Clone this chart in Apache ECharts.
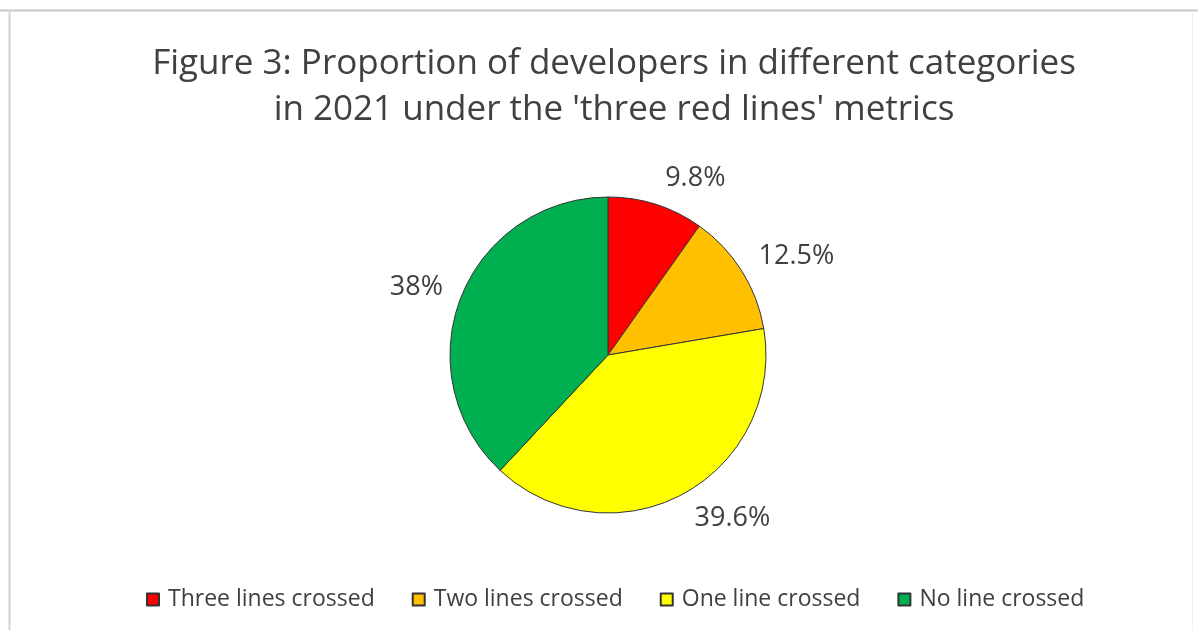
<!DOCTYPE html>
<html>
<head>
<meta charset="utf-8">
<title>Three red lines</title>
<script src="https://cdn.jsdelivr.net/npm/echarts@6/dist/echarts.min.js"></script>
<style>
  html, body { margin: 0; padding: 0; background: #fff; }
  #chart { width: 1198px; height: 630px; }
</style>
</head>
<body>
<div id="chart"></div>
<script>
// data
const categories = ['Three lines crossed', 'Two lines crossed', 'One line crossed', 'No line crossed']
const shares = [9.8, 12.5, 39.6, 38]
const labels = ['9.8%', '12.5%', '39.6%', '38%']
const colors = ['#FF0000', '#FFC000', '#FFFF00', '#00B050']

const textColor = '#404040'
const fontFamily = '"Open Sans", Lato, sans-serif'

// mid angle of each slice, measured clockwise from 12 o'clock
const total = shares.reduce((a, b) => a + b, 0)
const midAngles = []
let acc = 0
shares.forEach(v => {
  midAngles.push((acc + v / 2) / total * Math.PI * 2)
  acc += v
})

const chart = echarts.init(document.getElementById('chart'))

const option = {
  backgroundColor: '#fff',
  animation: false,
  title: {
    text: 'Figure 3: Proportion of developers in different categories\nin 2021 under the \'three red lines\' metrics',
    left: 609,
    textAlign: 'center',
    top: 36,
    textStyle: {
      color: textColor,
      fontFamily: fontFamily,
      fontWeight: 'normal',
      fontSize: 35,
      lineHeight: 46
    }
  },
  legend: {
    data: categories,
    left: 141,
    top: 583,
    icon: 'rect',
    itemWidth: 12,
    itemHeight: 12,
    itemGap: 37,
    textStyle: {
      color: textColor,
      fontFamily: fontFamily,
      fontSize: 23,
      padding: [0, 0, 0, 4]
    }
  },
  // thin frame from the original export
  graphic: [
    { type: 'line', shape: { x1: 0, y1: 10.5, x2: 1198, y2: 10.5 }, style: { stroke: '#c8c8c8', lineWidth: 2 } },
    { type: 'line', shape: { x1: 9.5, y1: 10, x2: 9.5, y2: 630 }, style: { stroke: '#d2d2d2', lineWidth: 2 } },
    { type: 'line', shape: { x1: 1192.5, y1: 12, x2: 1192.5, y2: 630 }, style: { stroke: '#f0f0f0', lineWidth: 1 } }
  ],
  series: [
    {
      name: 'Developers',
      type: 'pie',
      center: [608, 355],
      radius: 158,
      startAngle: 90,
      clockwise: true,
      avoidLabelOverlap: false,
      itemStyle: {
        borderColor: '#333',
        borderWidth: 1
      },
      label: {
        show: true,
        position: 'outside',
        formatter: p => labels[p.dataIndex],
        color: textColor,
        fontFamily: fontFamily,
        fontSize: 27
      },
      labelLine: {
        show: false,
        length: 14,
        length2: 0
      },
      // push label boxes outward vertically, like "outside end" labels
      labelLayout: params => ({
        dy: -params.labelRect.height / 2 * Math.cos(midAngles[params.dataIndex])
      }),
      data: categories.map((name, i) => ({
        name: name,
        value: shares[i],
        itemStyle: { color: colors[i] }
      }))
    }
  ]
}

chart.setOption(option)
</script>
</body>
</html>
